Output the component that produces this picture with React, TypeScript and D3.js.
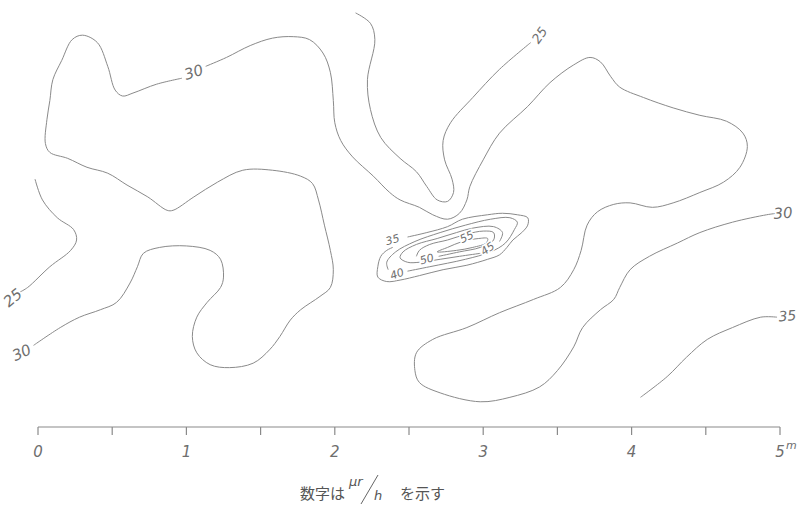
import React from 'react';
import * as d3 from 'd3';

type P = [number, number];

// Distances in metres (x along the baseline, y above it)
const xTicks = [0, 0.5, 1, 1.5, 2, 2.5, 3, 3.5, 4, 4.5, 5];
const xTickLabels = ['0', '1', '2', '3', '4', '5'];

// 30 μr/h isoline, part from top label round the left lobes to the left edge
const iso30a: P[] = [
  [0.97, 2.35], [0.80, 2.31], [0.64, 2.25], [0.57, 2.23], [0.52, 2.27], [0.47, 2.43],
  [0.40, 2.59], [0.30, 2.64], [0.23, 2.61], [0.16, 2.47], [0.10, 2.34], [0.08, 2.20],
  [0.06, 2.07], [0.05, 1.91], [0.08, 1.85], [0.20, 1.81], [0.33, 1.75], [0.47, 1.71],
  [0.60, 1.63], [0.74, 1.55], [0.87, 1.46], [0.91, 1.46], [1.05, 1.55], [1.21, 1.65],
  [1.38, 1.73], [1.58, 1.73], [1.77, 1.69], [1.85, 1.64], [1.89, 1.53], [1.93, 1.36],
  [1.97, 1.19], [1.99, 1.06], [1.97, 0.94], [1.90, 0.88], [1.77, 0.79], [1.70, 0.72],
  [1.63, 0.61], [1.56, 0.52], [1.45, 0.43], [1.29, 0.40], [1.16, 0.42], [1.07, 0.50],
  [1.04, 0.61], [1.07, 0.74], [1.14, 0.84], [1.23, 0.94], [1.25, 1.01], [1.23, 1.13],
  [1.16, 1.19], [1.00, 1.22], [0.82, 1.21], [0.71, 1.17], [0.67, 1.08], [0.62, 0.97],
  [0.53, 0.84], [0.42, 0.79], [0.28, 0.74], [0.15, 0.67], [-0.03, 0.55],
];

// 30 μr/h isoline, part from top label to the right edge
const iso30b: P[] = [
  [1.13, 2.43], [1.27, 2.49], [1.43, 2.57], [1.58, 2.62], [1.72, 2.63], [1.83, 2.61],
  [1.92, 2.52], [1.97, 2.39], [1.99, 2.20], [2.00, 2.05], [2.04, 1.93], [2.12, 1.82],
  [2.26, 1.69], [2.37, 1.58], [2.44, 1.53], [2.57, 1.48], [2.66, 1.43], [2.76, 1.40],
  [2.84, 1.44], [2.89, 1.53], [2.91, 1.62], [3.00, 1.80], [3.11, 1.98], [3.30, 2.16],
  [3.45, 2.32], [3.61, 2.44], [3.72, 2.49], [3.79, 2.46], [3.86, 2.36], [3.92, 2.29],
  [4.08, 2.22], [4.28, 2.15], [4.46, 2.10], [4.64, 2.06], [4.75, 1.98], [4.78, 1.89],
  [4.73, 1.75], [4.62, 1.65], [4.46, 1.58], [4.28, 1.51], [4.14, 1.48], [3.99, 1.51],
  [3.88, 1.50], [3.77, 1.45], [3.70, 1.36], [3.66, 1.19], [3.61, 1.06], [3.52, 0.94],
  [3.34, 0.86], [3.11, 0.77], [2.89, 0.67], [2.66, 0.59], [2.55, 0.50], [2.54, 0.38],
  [2.57, 0.30], [2.71, 0.23], [2.98, 0.17], [3.18, 0.20], [3.38, 0.27], [3.50, 0.38],
  [3.61, 0.54], [3.67, 0.67], [3.79, 0.79], [3.88, 0.86], [3.92, 0.94], [3.99, 1.06],
  [4.12, 1.15], [4.31, 1.24], [4.46, 1.31], [4.68, 1.38], [4.91, 1.43], [4.98, 1.44],
];

// 25 μr/h isolines
const iso25left: P[] = [
  [-0.02, 1.67], [0.03, 1.53], [0.13, 1.41], [0.24, 1.33], [0.26, 1.26], [0.22, 1.19],
  [0.08, 1.08], [-0.07, 0.94], [-0.12, 0.91],
];
const iso25mid: P[] = [
  [2.14, 2.79], [2.24, 2.72], [2.27, 2.61], [2.22, 2.34], [2.24, 2.14], [2.31, 1.95],
  [2.44, 1.81], [2.55, 1.72], [2.62, 1.62], [2.69, 1.53], [2.76, 1.52], [2.80, 1.58],
  [2.79, 1.67], [2.74, 1.80], [2.73, 1.93], [2.78, 2.05], [2.93, 2.22], [3.11, 2.41],
  [3.32, 2.59],
];

// 35 μr/h isolines
const iso35right: P[] = [
  [4.06, 0.20], [4.24, 0.34], [4.37, 0.47], [4.51, 0.59], [4.68, 0.67], [4.87, 0.74],
  [4.98, 0.74],
];
const iso35mid: P[] = [
  [2.49, 1.28], [2.62, 1.31], [2.76, 1.35], [2.86, 1.40], [3.03, 1.43], [3.13, 1.44],
  [3.23, 1.43], [3.30, 1.41], [3.30, 1.36], [3.26, 1.31], [3.20, 1.26], [3.16, 1.21],
  [3.11, 1.16], [3.03, 1.13], [2.89, 1.09], [2.73, 1.06], [2.57, 1.02], [2.44, 0.99],
  [2.35, 0.98], [2.29, 1.01], [2.29, 1.08], [2.31, 1.15], [2.35, 1.19], [2.39, 1.21],
];

// 40, 45, 50, 55 μr/h isolines of the central hot spot
const iso40: P[] = [
  [2.49, 1.05], [2.64, 1.08], [2.88, 1.13], [3.05, 1.18], [3.15, 1.24], [3.21, 1.33],
  [3.23, 1.38], [3.18, 1.41], [3.05, 1.40], [2.88, 1.36], [2.71, 1.31], [2.54, 1.25],
  [2.41, 1.18], [2.35, 1.11], [2.36, 1.06],
];
const iso45: P[] = [
  [2.98, 1.17], [2.84, 1.15], [2.71, 1.13], [2.57, 1.11], [2.49, 1.11], [2.44, 1.14],
  [2.46, 1.18], [2.55, 1.23], [2.69, 1.27], [2.82, 1.31], [2.93, 1.34], [3.07, 1.35],
  [3.13, 1.31], [3.11, 1.25],
];
const iso50: P[] = [
  [2.70, 1.15], [2.84, 1.18], [2.98, 1.21], [3.07, 1.26], [3.07, 1.31], [3.00, 1.32],
  [2.89, 1.30], [2.76, 1.26], [2.64, 1.23], [2.57, 1.19], [2.55, 1.15],
];
const iso55: P[] = [
  [2.69, 1.18], [2.82, 1.19], [2.93, 1.21], [3.02, 1.24], [3.03, 1.27], [2.97, 1.27],
  [2.86, 1.25], [2.76, 1.21],
];

const openLines: P[][] = [iso30a, iso30b, iso25left, iso25mid, iso35right, iso35mid, iso40, iso45, iso50];
const closedLines: P[][] = [iso55];

// Isoline value labels and where they are written
const labelText = ['30', '30', '30', '25', '25', '35', '35', '40', '45', '50', '55'];
const labelAt: P[] = [
  [1.05, 2.39], [-0.11, 0.50], [5.02, 1.44], [-0.17, 0.87], [3.38, 2.64], [5.05, 0.75],
  [2.39, 1.26], [2.42, 1.03], [3.03, 1.20], [2.62, 1.13], [2.89, 1.28],
];
const labelAngle = [-18, -25, -5, -40, -55, -5, -15, -20, -35, -15, -25];
const labelSize = [15, 15, 15, 15, 13, 14, 11, 11, 11, 11, 11];

export default function App() {
  const width = 800;
  const height = 506;
  const x = d3.scaleLinear().domain([0, 5]).range([38, 780]);
  const y = d3.scaleLinear().domain([0, 2.877]).range([427, 0]);

  const line = d3
    .line<P>()
    .x((d) => x(d[0]))
    .y((d) => y(d[1]))
    .curve(d3.curveCatmullRom.alpha(0.5));
  const closed = d3
    .line<P>()
    .x((d) => x(d[0]))
    .y((d) => y(d[1]))
    .curve(d3.curveCatmullRomClosed.alpha(0.5));

  const stroke = '#8a8a8a';
  const textFill = '#6e6e6e';
  const numFont = '"DejaVu Sans", sans-serif';
  const y0 = y(0);

  return (
    <div style={{ position: 'absolute', left: 0, top: 0, width, height, background: '#fff' }}>
      <svg width={width} height={height} style={{ display: 'block' }}>
        <rect width={width} height={height} fill="#fff" />
        <g fill="none" stroke={stroke} strokeWidth={1}>
          {openLines.map((pts, i) => (
            <path key={'o' + i} d={line(pts) || ''} />
          ))}
          {closedLines.map((pts, i) => (
            <path key={'c' + i} d={closed(pts) || ''} />
          ))}
        </g>
        <g fill={textFill} fontFamily={numFont} fontStyle="italic" fontWeight={200}>
          {labelText.map((t, i) => (
            <text
              key={'l' + i}
              x={x(labelAt[i][0])}
              y={y(labelAt[i][1])}
              fontSize={labelSize[i]}
              textAnchor="middle"
              dominantBaseline="central"
              stroke="#fff"
              strokeWidth={3}
              paintOrder="stroke"
              transform={`rotate(${labelAngle[i]} ${x(labelAt[i][0])} ${y(labelAt[i][1])})`}
            >
              {t}
            </text>
          ))}
        </g>
        {/* baseline scale in metres */}
        <g stroke={stroke} strokeWidth={1.2}>
          <line x1={x(0)} x2={x(5)} y1={y0} y2={y0} />
          {xTicks.map((t) => (
            <line key={'t' + t} x1={x(t)} x2={x(t)} y1={y0} y2={y0 + 8} />
          ))}
        </g>
        <g fill={textFill} fontFamily={numFont} fontStyle="italic" fontWeight={200} fontSize={15}>
          {xTickLabels.map((t) => (
            <text key={'x' + t} x={x(+t)} y={y0 + 30} textAnchor="middle">
              {t}
            </text>
          ))}
          <text x={x(5) + 6} y={y0 + 22} fontSize={11}>
            m
          </text>
        </g>
        {/* caption: 数字は μr/h を示す */}
        <g fill="#555" fontFamily='"Noto Sans CJK JP", sans-serif' fontSize={15}>
          <text x={300} y={499}>数字は</text>
          <text x={400} y={499}>を示す</text>
          <text x={349} y={486} fontSize={13} fontFamily={numFont} fontStyle="italic" fontWeight={200}>
            μr
          </text>
          <text x={374} y={500} fontSize={13} fontFamily={numFont} fontStyle="italic" fontWeight={200}>
            h
          </text>
          <line x1={361} y1={504} x2={378} y2={475} stroke="#666" strokeWidth={1} />
        </g>
      </svg>
    </div>
  );
}
